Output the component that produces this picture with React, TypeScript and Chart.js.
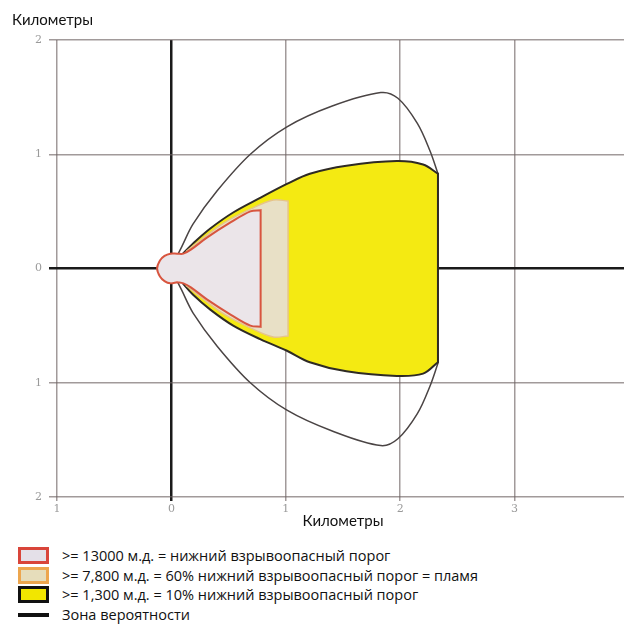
import React, { useEffect, useRef } from "react";
import { Chart, registerables } from "chart.js";

Chart.register(...registerables);

// Axis ticks (km)
const xTicks = [-1, 0, 1, 2, 3, 4];
const yTicks = [-2, -1, 0, 1, 2];

// Zone outlines [km downwind, km crosswind]; corner vertices are listed twice so the smooth curve keeps them sharp
const lelZone: [number, number][] = [
  [0.05, 0.13], [0.05, 0.13], [0.105, 0.13], [0.17, 0.165], [0.31, 0.27], [0.52, 0.405], [0.69, 0.5], [0.78, 0.51], [0.78, 0.51],
  [0.78, -0.51], [0.78, -0.51], [0.69, -0.5], [0.52, -0.405], [0.31, -0.27], [0.17, -0.165], [0.105, -0.13], [0.05, -0.12], [0.05, -0.12],
  [-0.01, -0.13], [-0.06, -0.11], [-0.1, -0.07], [-0.125, 0], [-0.1, 0.07], [-0.06, 0.11], [-0.01, 0.13],
];
const flameZone: [number, number][] = [
  [0.13, 0.15], [0.13, 0.15], [0.25, 0.245], [0.46, 0.4], [0.69, 0.52], [0.89, 0.6], [1.02, 0.59], [1.02, 0.59],
  [1.02, -0.59], [1.02, -0.59], [0.89, -0.6], [0.69, -0.52], [0.46, -0.4], [0.25, -0.245], [0.13, -0.15], [0.13, -0.15],
];
const tenPctZone: [number, number][] = [
  [0.1, 0.13], [0.1, 0.13], [0.19, 0.22], [0.34, 0.35], [0.54, 0.49], [0.78, 0.62], [1.01, 0.74], [1.21, 0.83],
  [1.53, 0.9], [1.97, 0.94], [2.2, 0.91], [2.33, 0.83], [2.33, 0.83],
  [2.33, -0.82], [2.33, -0.82], [2.2, -0.92], [1.97, -0.94], [1.53, -0.9], [1.21, -0.82], [1.01, -0.72],
  [0.78, -0.62], [0.54, -0.5], [0.34, -0.36], [0.19, -0.23], [0.1, -0.13], [0.1, -0.13],
];
const probabilityZone: [number, number][] = [
  [0.05, 0.11], [0.05, 0.11], [0.09, 0.19], [0.19, 0.39], [0.4, 0.68], [0.69, 1.0], [1.01, 1.24],
  [1.4, 1.42], [1.83, 1.54], [1.98, 1.49], [2.15, 1.27], [2.26, 1.03], [2.33, 0.83], [2.33, 0.83],
  [2.33, -0.83], [2.33, -0.83], [2.26, -1.03], [2.15, -1.27], [1.98, -1.49], [1.83, -1.55], [1.4, -1.42],
  [1.01, -1.24], [0.69, -1.0], [0.4, -0.68], [0.19, -0.39], [0.09, -0.19], [0.05, -0.11], [0.05, -0.11],
];

const axisTitle = "Километры";
const legendLabels = [
  ">= 13000 м.д. = нижний взрывоопасный порог",
  ">= 7,800 м.д. = 60% нижний взрывоопасный порог = пламя",
  ">= 1,300 м.д. = 10% нижний взрывоопасный порог",
  "Зона вероятности",
];

const closed = (pts: [number, number][]) =>
  [...pts, pts[0]].map(([x, y]) => ({ x, y }));

const gridColor = (ctx: any) =>
  ctx.tick && ctx.tick.value === 0 ? "#1a1a1a" : "rgba(110,100,100,0.65)";
const gridWidth = (ctx: any) => (ctx.tick && ctx.tick.value === 0 ? 2.5 : 1.5);

export default function App() {
  const ref = useRef<HTMLCanvasElement | null>(null);

  useEffect(() => {
    document.body.style.margin = "0";
    if (!ref.current) return;
    const chart = new Chart(ref.current, {
      type: "scatter",
      data: {
        datasets: [
          {
            label: legendLabels[0],
            data: closed(lelZone),
            showLine: true,
            fill: "shape",
            backgroundColor: "#ebe5e9",
            borderColor: "#d8553f",
            borderWidth: 2,
            pointRadius: 0,
            tension: 0.35,
          },
          {
            label: legendLabels[1],
            data: closed(flameZone),
            showLine: true,
            fill: "shape",
            backgroundColor: "#e8e0c6",
            borderColor: "#e6c488",
            borderWidth: 1.5,
            pointRadius: 0,
            tension: 0.35,
          },
          {
            label: legendLabels[2],
            data: closed(tenPctZone),
            showLine: true,
            fill: "shape",
            backgroundColor: "#f4ea12",
            borderColor: "#2e2a24",
            borderWidth: 2,
            pointRadius: 0,
            tension: 0.35,
          },
          {
            label: legendLabels[3],
            data: closed(probabilityZone),
            showLine: true,
            fill: false,
            borderColor: "#4a4444",
            borderWidth: 1.5,
            pointRadius: 0,
            tension: 0.35,
          },
        ],
      },
      options: {
        responsive: false,
        animation: false,
        layout: { padding: { left: 12, top: 8, right: 11, bottom: 0 } },
        plugins: {
          legend: { display: false },
          tooltip: { enabled: false },
          title: {
            display: true,
            text: axisTitle,
            align: "start",
            color: "#111",
            font: { family: "Lato", size: 15, weight: "normal" },
            padding: { top: 3, bottom: 11 },
          },
        },
        scales: {
          x: {
            type: "linear",
            min: -1,
            max: 4,
            z: 1,
            afterBuildTicks: (s: any) => {
              s.ticks = xTicks.map((v) => ({ value: v }));
            },
            afterFit: (s: any) => {
              s.height = 43;
            },
            ticks: {
              color: "#9a9a9a",
              font: { family: "DejaVu Serif", size: 11 },
              padding: 2,
              maxRotation: 0,
              callback: (v: any) => String(Math.abs(Number(v))),
            },
            grid: { color: gridColor, lineWidth: gridWidth, tickLength: 4 },
            border: { display: false },
            title: {
              display: true,
              text: axisTitle,
              color: "#111",
              font: { family: "Lato", size: 15 },
              padding: { top: 0, bottom: 10 },
            },
          },
          y: {
            type: "linear",
            min: -2,
            max: 2,
            z: 1,
            afterBuildTicks: (s: any) => {
              s.ticks = yTicks.map((v) => ({ value: v }));
            },
            afterFit: (s: any) => {
              s.width = 45;
            },
            ticks: {
              color: "#9a9a9a",
              font: { family: "DejaVu Serif", size: 11 },
              padding: 7,
              callback: (v: any) => String(Math.abs(Number(v))),
            },
            grid: { color: gridColor, lineWidth: gridWidth, tickLength: 8 },
            border: { display: false },
          },
        },
      },
    });
    return () => chart.destroy();
  }, []);

  const boxes = [
    { border: "#d9453a", bg: "#e4e0e8" },
    { border: "#eda64e", bg: "#e6ddbb" },
    { border: "#111111", bg: "#f2e600" },
  ];
  const rowTop = [547, 567, 586, 606];

  return (
    <div style={{ position: "relative", width: 624, height: 630, overflow: "hidden", background: "#fff" }}>
      <canvas
        ref={ref}
        width={640}
        height={540}
        style={{ position: "absolute", left: 0, top: 0, width: 640, height: 540 }}
      />
      {legendLabels.map((label, i) => (
        <div
          key={i}
          style={{
            position: "absolute",
            left: 0,
            top: rowTop[i],
            height: 17,
            fontFamily: "Open Sans",
            fontSize: 14.5,
            color: "#111",
            whiteSpace: "nowrap",
          }}
        >
          {i < 3 ? (
            <div
              style={{
                position: "absolute",
                left: 18,
                top: 0,
                width: 31,
                height: 17,
                boxSizing: "border-box",
                border: `3px solid ${boxes[i].border}`,
                background: boxes[i].bg,
              }}
            />
          ) : (
            <div
              style={{ position: "absolute", left: 18, top: 7, width: 31, height: 4, background: "#111" }}
            />
          )}
          <span style={{ position: "absolute", left: 62, top: 0, lineHeight: "17px" }}>{label}</span>
        </div>
      ))}
    </div>
  );
}
